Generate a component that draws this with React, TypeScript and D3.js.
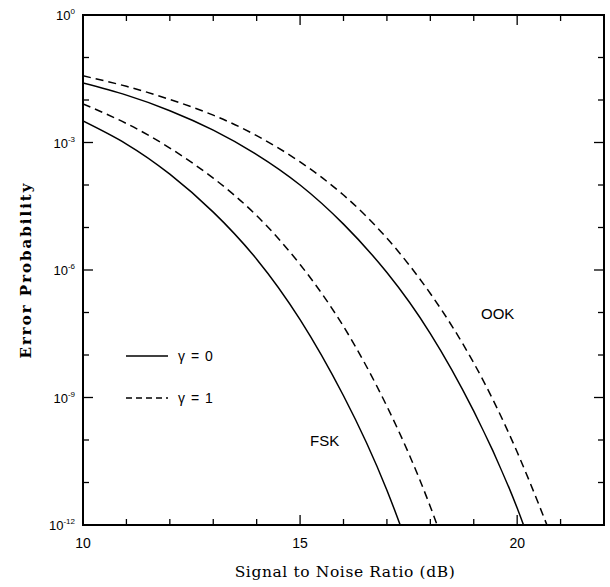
import React from "react";
import * as d3 from "d3";

// ---- data; last point of each lies just below the 1e-12 floor and is clipped ----
const fskG0Snr = [10, 11, 12, 13, 14, 15, 16, 17, 18];
const fskG0Pe = [3.2e-3, 9.2e-4, 1.8e-4, 2.3e-5, 1.8e-6, 6.8e-8, 1.1e-9, 6.6e-12, 1e-14];

const fskG1Snr = [10, 11, 12, 13, 14, 15, 16, 17, 18, 19];
const fskG1Pe = [8.1e-3, 2.8e-3, 7.4e-4, 1.45e-4, 1.9e-5, 1.35e-6, 4.7e-8, 6.2e-10, 2.7e-12, 3e-15];

const ookG0Snr = [10, 11, 12, 13, 14, 15, 16, 17, 18, 19, 20, 21];
const ookG0Pe = [2.5e-2, 1.3e-2, 5.6e-3, 1.95e-3, 5.2e-4, 1.0e-4, 1.2e-5, 8.7e-7, 3.2e-8, 4.8e-10, 2.5e-12, 3e-15];

const ookG1Snr = [10, 11, 12, 13, 14, 15, 16, 17, 18, 19, 20, 21];
const ookG1Pe = [3.7e-2, 2.1e-2, 1.03e-2, 4.4e-3, 1.45e-3, 3.5e-4, 5.8e-5, 5.6e-6, 2.8e-7, 6.5e-9, 5.2e-11, 1.5e-13];

const xMajorTicks = [10, 15, 20];
const xMinorTicks = [11, 12, 13, 14, 16, 17, 18, 19, 21];
const yMajorExps = [0, -3, -6, -9, -12];
const yMinorExps = [-1, -2, -4, -5, -7, -8, -10, -11];

const legendItems = [
  { label: "γ = 0", dashed: false },
  { label: "γ = 1", dashed: true },
];

// ---- layout ----
const W = 610;
const H = 587;
const L = 83, R = 604, T = 15, B = 525;

export default function App() {
  const x = d3.scaleLinear().domain([10, 22]).range([L, R]);
  const y = d3.scaleLog().domain([1e-12, 1]).range([B, T]);
  const line = d3
    .line<[number, number]>()
    .x((d) => x(d[0]))
    .y((d) => y(d[1]))
    .curve(d3.curveNatural);

  const series = [
    { snr: fskG0Snr, pe: fskG0Pe, dashed: false },
    { snr: fskG1Snr, pe: fskG1Pe, dashed: true },
    { snr: ookG0Snr, pe: ookG0Pe, dashed: false },
    { snr: ookG1Snr, pe: ookG1Pe, dashed: true },
  ];

  const sans = "'Liberation Sans', Arial, sans-serif";
  const serif = "'DejaVu Serif', serif";
  const majorLen = 10;
  const minorLen = 6;

  return (
    <svg
      width={W}
      height={H}
      style={{ position: "absolute", left: 0, top: 0, background: "#fff" }}
    >
      <defs>
        <clipPath id="plot">
          <rect x={L} y={T} width={R - L} height={B - T} />
        </clipPath>
      </defs>

      {/* curves */}
      <g clipPath="url(#plot)">
        {series.map((s, i) => (
          <path
            key={i}
            d={line(s.snr.map((v, j) => [v, s.pe[j]] as [number, number])) || ""}
            fill="none"
            stroke="#000"
            strokeWidth={1.5}
            strokeDasharray={s.dashed ? "8,5" : undefined}
          />
        ))}
      </g>

      {/* frame */}
      <rect x={L} y={T} width={R - L} height={B - T} fill="none" stroke="#000" strokeWidth={2} />

      {/* x ticks (bottom and top, inward) */}
      {xMajorTicks.concat(xMinorTicks).map((t) => {
        const len = xMajorTicks.includes(t) ? majorLen : minorLen;
        return (
          <g key={"xt" + t}>
            <line x1={x(t)} x2={x(t)} y1={B} y2={B - len} stroke="#000" strokeWidth={1.3} />
            <line x1={x(t)} x2={x(t)} y1={T} y2={T + len} stroke="#000" strokeWidth={1.3} />
          </g>
        );
      })}
      {/* y ticks (left and right, inward) */}
      {yMajorExps.concat(yMinorExps).map((e) => {
        const len = yMajorExps.includes(e) ? majorLen : minorLen;
        const yy = y(Math.pow(10, e));
        return (
          <g key={"yt" + e}>
            <line x1={L} x2={L + len} y1={yy} y2={yy} stroke="#000" strokeWidth={1.3} />
            <line x1={R} x2={R - len} y1={yy} y2={yy} stroke="#000" strokeWidth={1.3} />
          </g>
        );
      })}

      {/* x tick labels */}
      {xMajorTicks.map((t) => (
        <text
          key={"xl" + t}
          x={x(t)}
          y={B + 23}
          textAnchor="middle"
          fontFamily={sans}
          fontSize={14}
        >
          {t}
        </text>
      ))}

      {/* y tick labels */}
      {yMajorExps.map((e) => (
        <text
          key={"yl" + e}
          x={L - 8}
          y={y(Math.pow(10, e)) + 5}
          textAnchor="end"
          fontFamily={sans}
          fontSize={13}
        >
          10
          <tspan fontSize={8} dy={-6}>
            {e}
          </tspan>
        </text>
      ))}

      {/* axis titles */}
      <text
        x={345}
        y={577}
        textAnchor="middle"
        fontFamily={serif}
        fontSize={15.5}
        letterSpacing={0.6}
      >
        Signal to Noise Ratio (dB)
      </text>
      <text
        transform={`translate(31, ${(T + B) / 2}) rotate(-90)`}
        textAnchor="middle"
        fontFamily={serif}
        fontWeight="bold"
        fontSize={15}
        letterSpacing={2}
      >
        Error Probability
      </text>

      {/* curve labels */}
      <text x={481} y={319} fontFamily={sans} fontSize={15}>
        OOK
      </text>
      <text x={310} y={446} fontFamily={sans} fontSize={15}>
        FSK
      </text>

      {/* legend */}
      {legendItems.map((it, i) => {
        const ly = 356 + i * 42;
        return (
          <g key={"lg" + i}>
            <line
              x1={126}
              x2={168}
              y1={ly}
              y2={ly}
              stroke="#000"
              strokeWidth={1.5}
              strokeDasharray={it.dashed ? "6,4" : undefined}
            />
            <text x={178} y={ly + 5} fontFamily={sans} fontSize={14} letterSpacing={1}>
              {it.label}
            </text>
          </g>
        );
      })}
    </svg>
  );
}
